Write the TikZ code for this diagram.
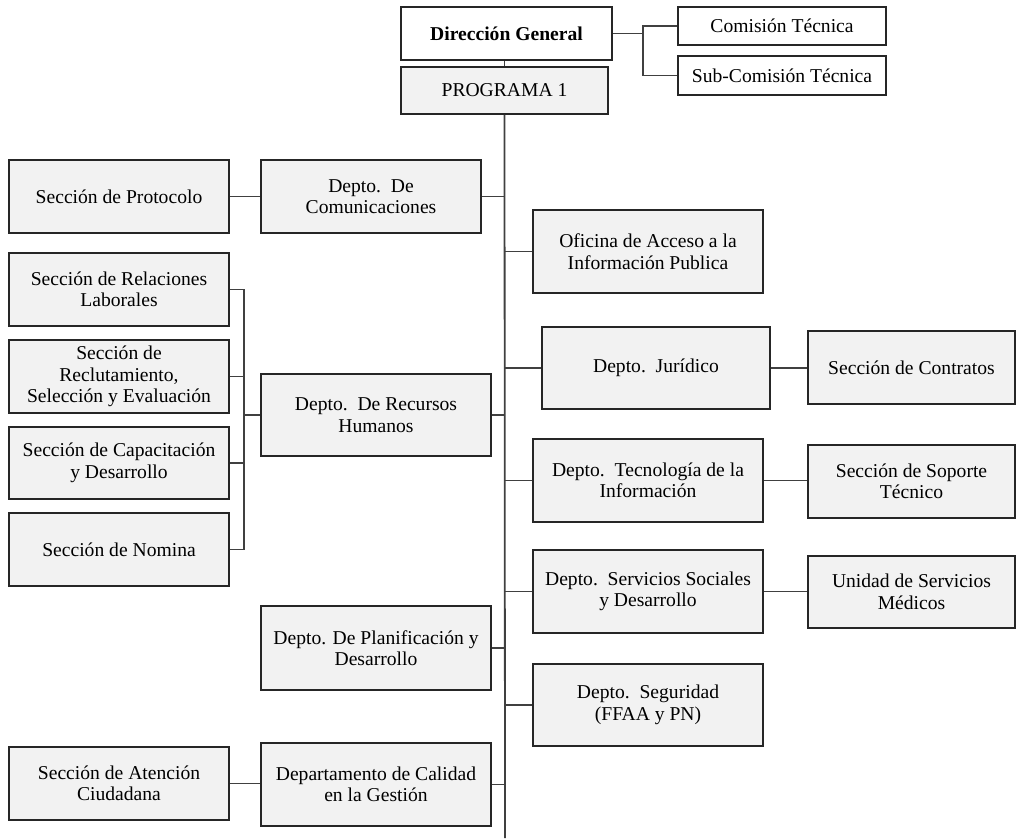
\documentclass[tikz,border=0pt]{standalone}
\usepackage{fontspec}
\setmainfont{Liberation Serif}
\begin{document}
\begin{tikzpicture}[x=1pt,y=-1pt,
  box/.style={draw=black!85, line width=1.5pt, fill=boxfill, inner sep=0pt, align=center,
    font=\fontsize{19.6}{21.5}\selectfont},
  wbox/.style={box, fill=white},
  conn/.style={draw=black!75, line width=1.8pt}]
\definecolor{boxfill}{RGB}{242,242,242}
\useasboundingbox (0,0) rectangle (1016,838);
\newcommand{\bx}[7]{\node[#1, minimum width={#4-#2}, minimum height={#5-#3}] (#6) at ({(#2+#4)/2},{(#3+#5)/2}) {#7};}
% top
\bx{wbox}{401}{7}{612}{60}{dg}{\textbf{Dirección General}}
\bx{box}{401}{67}{608}{114}{prog}{PROGRAMA 1}
\bx{wbox}{678}{7}{886}{45}{ct}{Comisión Técnica}
\bx{wbox}{678}{56}{886}{95}{sct}{Sub-Comisión Técnica}
% left
\bx{box}{9}{160}{229}{233}{prot}{Sección de Protocolo}
\bx{box}{261}{160}{481}{233}{com}{Depto.\ \ De\\Comunicaciones}
\bx{box}{9}{253}{229}{326}{rel}{Sección de Relaciones\\Laborales}
\bx{box}{9}{340}{229}{413}{rec}{Sección de\\Reclutamiento,\\Selección y Evaluación}
\bx{box}{9}{427}{229}{499}{cap}{Sección de Capacitación\\y Desarrollo}
\bx{box}{9}{513}{229}{586}{nom}{Sección de Nomina}
\bx{box}{261}{374}{491}{456}{rrhh}{Depto.\ \ De Recursos\\Humanos}
\bx{box}{261}{606}{491}{690}{plan}{Depto. De Planificación y\\Desarrollo}
\bx{box}{9}{747}{229}{820}{aten}{Sección de Atención\\Ciudadana}
\bx{box}{261}{743}{491}{826}{cal}{Departamento de Calidad\\en la Gestión}
% right
\bx{box}{533}{210}{763}{293}{ofi}{Oficina de Acceso a la\\Información Publica}
\bx{box}{542}{327}{770}{409}{jur}{Depto.\ \ Jurídico}
\bx{box}{808}{331}{1015}{404}{cont}{Sección de Contratos}
\bx{box}{533}{439}{763}{522}{tec}{Depto.\ \ Tecnología de la\\Información}
\bx{box}{808}{445}{1015}{518}{sop}{Sección de Soporte\\Técnico}
\bx{box}{533}{550}{763}{633}{soc}{Depto.\ \ Servicios Sociales\\y Desarrollo}
\bx{box}{808}{556}{1015}{628}{med}{Unidad de Servicios\\Médicos}
\bx{box}{533}{664}{763}{746}{seg}{Depto.\ \ Seguridad\\(FFAA y PN)}
% connectors
\coordinate (cb) at (643,0);
\coordinate (rb) at (244,0);
\coordinate (mbot) at (505,838);
\draw[conn] (dg.south -| prog.north) -- (prog.north);
\draw[conn] (dg.east) -- (dg.east -| cb);
\draw[conn] (ct.west) -- (ct.west -| cb) -- (sct.west -| cb) -- (sct.west);
\draw[conn] (prog.south) -- (mbot);
\foreach \n in {com,rrhh,plan,cal}{\draw[conn] (\n.east) -- (\n.east -| mbot);}
\foreach \n in {ofi,jur,tec,soc,seg}{\draw[conn] (\n.west) -- (\n.west -| mbot);}
\draw[conn] (prot.east) -- (com.west);
\draw[conn] (aten.east) -- (aten.east -| cal.west);
\draw[conn] (jur.east) -- (jur.east -| cont.west);
\draw[conn] (tec.east) -- (tec.east -| sop.west);
\draw[conn] (soc.east) -- (soc.east -| med.west);
\draw[conn] (rel.east) -- (rel.east -| rb) -- (nom.east -| rb) -- (nom.east);
\draw[conn] (rec.east) -- (rec.east -| rb);
\draw[conn] (cap.east) -- (cap.east -| rb);
\draw[conn] (rrhh.west) -- (rrhh.west -| rb);
\end{tikzpicture}
\end{document}
